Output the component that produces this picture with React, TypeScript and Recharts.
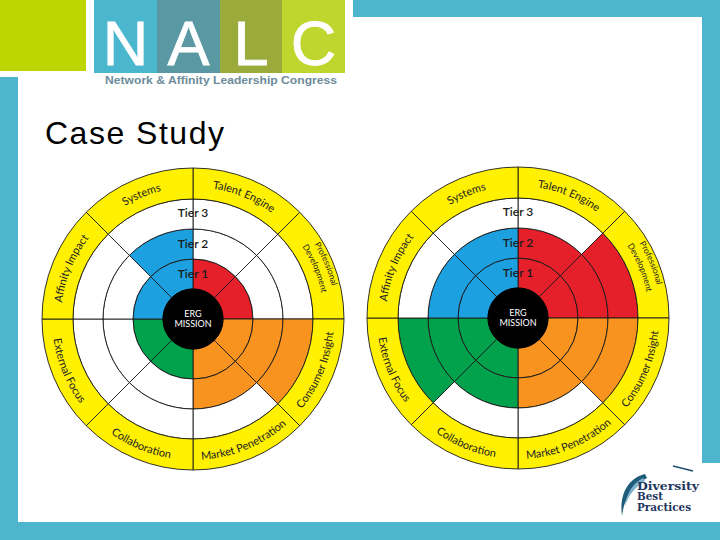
import { PieChart, Pie, Cell } from "recharts";

// sectors listed clockwise from 12 o'clock
const sectors = [
  "Talent Engine",
  "Professional Development",
  "Consumer Insight",
  "Market Penetration",
  "Collaboration",
  "External Focus",
  "Affinity Impact",
  "Systems",
];
const RED = "#E5202B";
const ORANGE = "#F7931E";
const GREEN = "#02A24D";
const BLUE = "#1DA0E0";
const YELLOW = "#FFF100";
const TEAL = "#4DB6CE";

const sectorColors = [RED, RED, ORANGE, ORANGE, GREEN, GREEN, BLUE, BLUE];
const beforeLevels = [1, 1, 3, 2, 1, 1, 1, 2];
const afterLevels = [2, 3, 3, 2, 2, 3, 2, 2];
const tiers = [1, 2, 3];
const tierLabels = ["Tier 1", "Tier 2", "Tier 3"];
const centerLines = ["ERG", "MISSION"];

const C = 160;
const CORE = 30;
const TIER_W = 30;
const R_IN = 120;
const R_OUT = 151;
const FONT = "Lato, 'Open Sans', sans-serif";
const NO_MARGIN = { top: 0, right: 0, bottom: 0, left: 0 };

function polar(r: number, deg: number) {
  const a = (deg * Math.PI) / 180;
  return [C + r * Math.cos(a), C - r * Math.sin(a)];
}

function arcPath(r: number, a1: number, a2: number, sweep: number) {
  const [x1, y1] = polar(r, a1);
  const [x2, y2] = polar(r, a2);
  return `M ${x1} ${y1} A ${r} ${r} 0 0 ${sweep} ${x2} ${y2}`;
}

function sectorLabel(wheelId: string) {
  return (props: any) => {
    const i = props.index;
    const name = sectors[i];
    const mid = 67.5 - 45 * i;
    const top = Math.sin((mid * Math.PI) / 180) > 0;
    const s = mid + 22.5;
    const e = mid - 22.5;
    const lines: [string, number, number][] =
      name === "Professional Development"
        ? [
            ["Professional", 142.5, 8.5],
            ["Development", 131, 8.5],
          ]
        : [[name, top ? 132 : 141, 11]];
    return (
      <g key={`${wheelId}-lbl-${i}`}>
        <defs>
          {lines.map(([, r], k) => (
            <path
              key={k}
              id={`${wheelId}-arc-${i}-${k}`}
              d={top ? arcPath(r, s, e, 1) : arcPath(r, e, s, 0)}
              fill="none"
            />
          ))}
        </defs>
        {lines.map(([txt, , fs], k) => (
          <text key={k} fontFamily={FONT} fontSize={fs} fill="#222">
            <textPath href={`#${wheelId}-arc-${i}-${k}`} startOffset="50%" textAnchor="middle">
              {txt}
            </textPath>
          </text>
        ))}
      </g>
    );
  };
}

function tierLabel(t: number) {
  return (props: any) => {
    if (props.index !== 0) return null;
    const r = t === 3 ? 106 : CORE + TIER_W * (t - 1) + TIER_W / 2;
    return (
      <text
        key={`tier-${t}`}
        x={C}
        y={C - r + 4}
        textAnchor="middle"
        fontFamily={FONT}
        fontSize={12}
        fontWeight={600}
        fill="#1b1b1b"
      >
        {tierLabels[t - 1]}
      </text>
    );
  };
}

const centerLabel = () => (
  <text key="center" x={C} textAnchor="middle" fontFamily={FONT} fontSize={9} fill="#fff">
    <tspan x={C} y={C - 2}>
      {centerLines[0]}
    </tspan>
    <tspan x={C} y={C + 8}>
      {centerLines[1]}
    </tspan>
  </text>
);

function Wheel({ id, levels, left, top }: { id: string; levels: number[]; left: number; top: number }) {
  const ringData = sectors.map((name, i) => ({ name, value: 1, level: levels[i] }));
  return (
    <div style={{ position: "absolute", left, top }}>
      <PieChart width={320} height={320} margin={NO_MARGIN}>
        {tiers.map((t) => (
          <Pie
            key={t}
            data={ringData}
            dataKey="value"
            cx={C}
            cy={C}
            innerRadius={CORE + TIER_W * (t - 1)}
            outerRadius={CORE + TIER_W * t}
            startAngle={90}
            endAngle={-270}
            stroke="#1a1a1a"
            strokeWidth={0.9}
            label={tierLabel(t)}
            labelLine={false}
            isAnimationActive={false}
          >
            {ringData.map((d, i) => (
              <Cell key={i} fill={d.level >= t ? sectorColors[i] : "#fff"} />
            ))}
          </Pie>
        ))}
        <Pie
          data={ringData}
          dataKey="value"
          cx={C}
          cy={C}
          innerRadius={R_IN}
          outerRadius={R_OUT}
          startAngle={90}
          endAngle={-270}
          fill={YELLOW}
          stroke="#1a1a1a"
          strokeWidth={0.9}
          label={sectorLabel(id)}
          labelLine={false}
          isAnimationActive={false}
        />
        <Pie
          data={[{ name: "ERG MISSION", value: 1 }]}
          dataKey="value"
          cx={C}
          cy={C}
          innerRadius={0}
          outerRadius={CORE}
          fill="#000"
          stroke="#000"
          label={centerLabel}
          labelLine={false}
          isAnimationActive={false}
        />
      </PieChart>
    </div>
  );
}

const logoBlocks = [
  { x: 94, w: 63, fill: "#4BB7CF", letter: "N" },
  { x: 157, w: 63, fill: "#5A98A3", letter: "A" },
  { x: 220, w: 62, fill: "#9AAA3B", letter: "L" },
  { x: 282, w: 63, fill: "#BFD62F", letter: "C" },
];

export default function App() {
  return (
    <div style={{ position: "absolute", left: 0, top: 0, width: 720, height: 540, overflow: "hidden" }}>
      <svg width={720} height={540} style={{ position: "absolute", left: 0, top: 0 }}>
        <rect x={0} y={0} width={720} height={540} fill="#fff" />
        <rect x={353} y={0} width={367} height={17} fill={TEAL} />
        <rect x={702} y={0} width={18} height={463} fill={TEAL} />
        <rect x={0} y={77} width={18} height={463} fill={TEAL} />
        <rect x={0} y={522} width={720} height={18} fill={TEAL} />
        <rect x={0} y={0} width={86} height={71} fill="#BDD500" />
        {logoBlocks.map((b) => (
          <g key={b.letter}>
            <rect x={b.x} y={0} width={b.w} height={73} fill={b.fill} />
            <text
              x={b.x + b.w / 2}
              y={65}
              textAnchor="middle"
              fontFamily="'Liberation Sans', Arial, sans-serif"
              fontSize={63}
              fill="#fff"
              stroke="#fff"
              strokeWidth={0.8}
            >
              {b.letter}
            </text>
          </g>
        ))}
        <text
          x={105}
          y={84}
          fontFamily="'Liberation Sans', Arial, sans-serif"
          fontSize={11}
          fontWeight={700}
          fill="#6D8C9B"
          textLength={232}
          lengthAdjust="spacingAndGlyphs"
        >
          Network &amp; Affinity Leadership Congress
        </text>
        <text
          x={45}
          y={144}
          fontFamily="'Liberation Sans', Arial, sans-serif"
          fontSize={32}
          letterSpacing={1.5}
          fill="#000"
        >
          Case Study
        </text>
        <path d="M645 474 C629 478 619 493 622 516 C624 499 632 486 647 478 Z" fill="#1F5C7A" />
        <path d="M643 478 C633 483 626 494 625 507 C628 496 634 488 645 481 Z" fill="#7FB3CC" />
        <path d="M673 466 L693 471" stroke="#1F4E6E" strokeWidth={1.5} />
        <g fontFamily="'DejaVu Serif', serif" fontSize={10.5} fontWeight={700} fill="#1F3560">
          <text x={637} y={490} textLength={62} lengthAdjust="spacingAndGlyphs">
            Diversity
          </text>
          <text x={637} y={500} textLength={26} lengthAdjust="spacingAndGlyphs">
            Best
          </text>
          <text x={637} y={511} textLength={54} lengthAdjust="spacingAndGlyphs">
            Practices
          </text>
        </g>
      </svg>
      <Wheel id="before" levels={beforeLevels} left={33} top={159} />
      <Wheel id="after" levels={afterLevels} left={358} top={158} />
    </div>
  );
}
